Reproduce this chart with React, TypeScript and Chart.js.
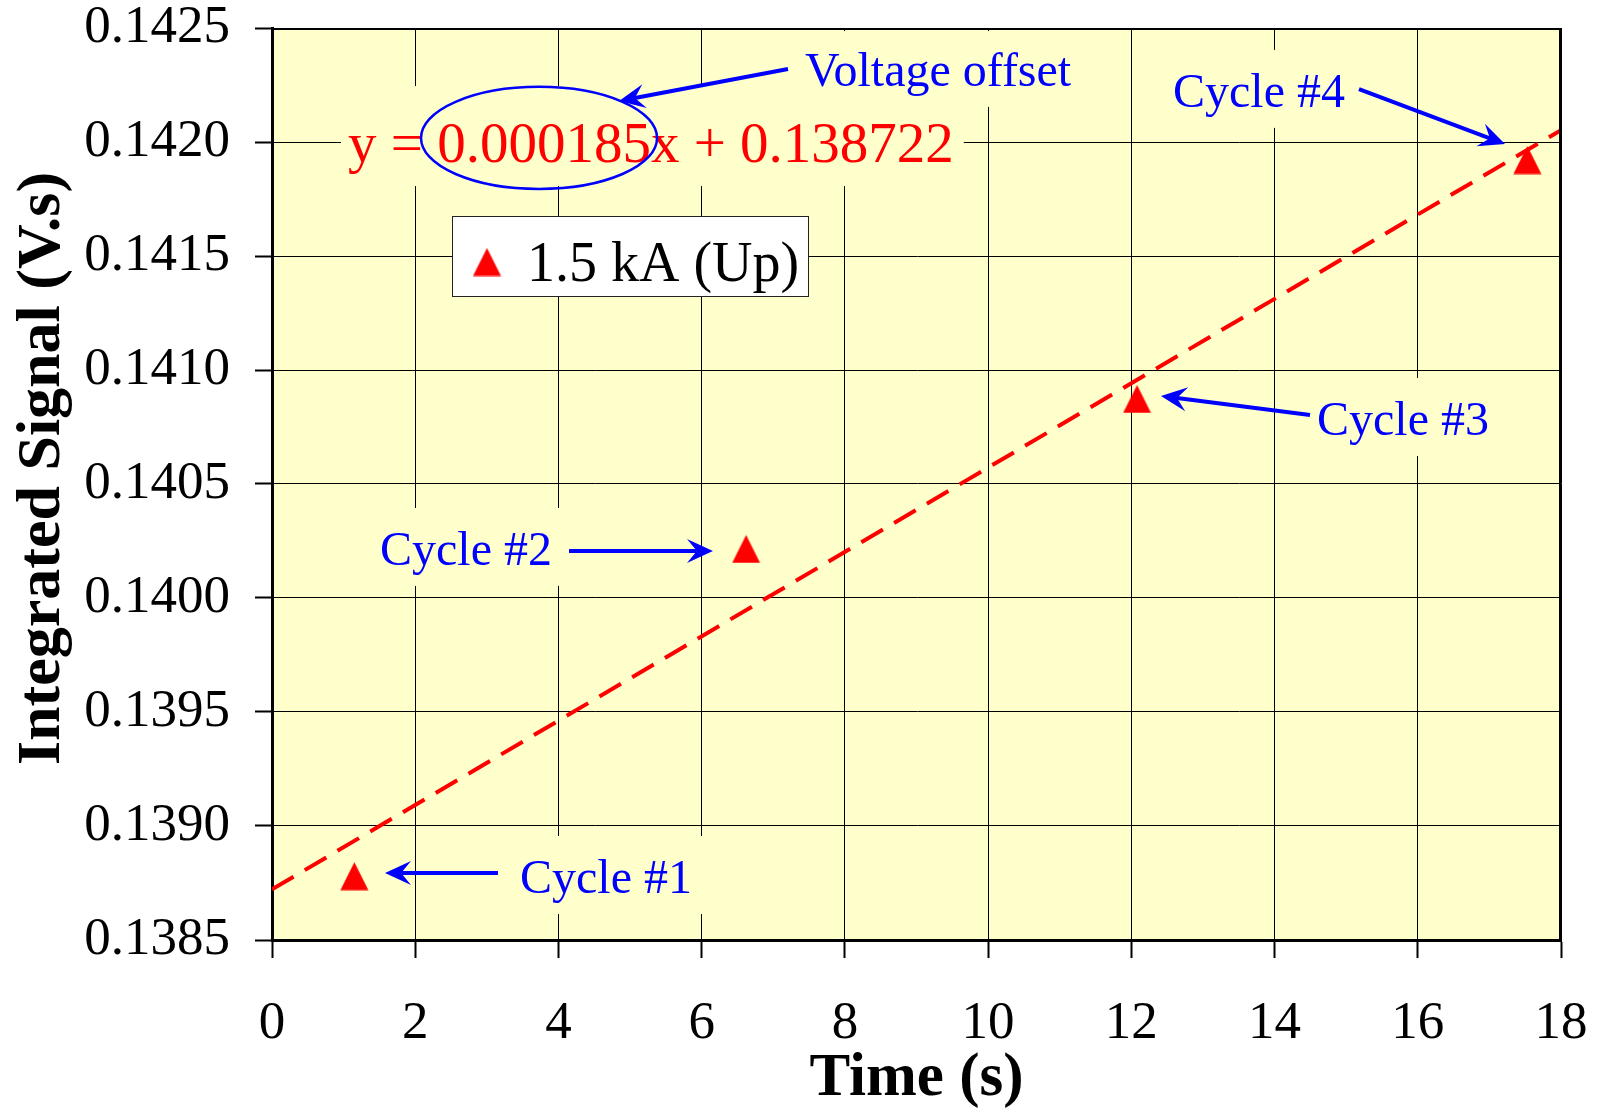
import React, { useEffect, useRef } from 'react';
import { Chart, registerables } from 'chart.js';

Chart.register(...registerables);

const FONT = "'Liberation Serif', 'Times New Roman', Times, serif";

// ---- data ----
const seriesLabel = '1.5 kA (Up)';
const timeS = [1.15, 6.62, 12.08, 17.53];
const signalVs = [0.13878, 0.140215, 0.140873, 0.141921];

const trendX = [0, 18];
const trendY = [0.138722, 0.142052];
const equationText = 'y = 0.000185x + 0.138722';

// axes
const X_MIN = 0;
const X_MAX = 18;
const X_STEP = 2;
const Y_MIN = 0.1385;
const Y_MAX = 0.1425;
const Y_STEP = 0.0005;
const xTitle = 'Time (s)';
const yTitle = 'Integrated Signal (V.s)';

// annotations (data coordinates)
const cycleLabels = ['Cycle #1', 'Cycle #2', 'Cycle #3', 'Cycle #4'];
const cycleTextX = [3.463, 1.508, 14.593, 12.582];
const cycleTextY = [0.138706, 0.140145, 0.140715, 0.142154];
const arrowFromX = [3.156, 4.148, 14.495, 15.179];
const arrowFromY = [0.138794, 0.140206, 0.140803, 0.142232];
const arrowToX = [1.578, 6.158, 12.414, 17.218];
const arrowToY = [0.138794, 0.140206, 0.140886, 0.141991];

const offsetLabel = 'Voltage offset';
const offsetTextPos = [7.443, 0.142246];
const offsetArrowFrom = [7.206, 0.14232];
const offsetArrowTo = [4.846, 0.14218];
const equationPos = [1.061, 0.141912];
const ellipseCenter = [3.729, 0.142018];
const ellipseRadius = [1.648, 0.000224];

const PLOT_BG = '#FFFFCC';
const RED = '#FF0000';
const BLUE = '#0000FF';
const ANNOT_SIZE = 48;
const EQ_SIZE = 57;

function makeTriangle(size: number, color: string) {
  const c = document.createElement('canvas');
  c.width = size;
  c.height = size;
  const g = c.getContext('2d')!;
  g.fillStyle = color;
  g.beginPath();
  g.moveTo(size / 2, 0.5);
  g.lineTo(size - 0.5, size - 0.5);
  g.lineTo(0.5, size - 0.5);
  g.closePath();
  g.fill();
  return c;
}

function drawArrow(ctx: CanvasRenderingContext2D, x1: number, y1: number, x2: number, y2: number) {
  const headLen = 26;
  const headHalf = 12;
  const ang = Math.atan2(y2 - y1, x2 - x1);
  const ux = Math.cos(ang);
  const uy = Math.sin(ang);
  const px = -uy;
  const py = ux;
  const bx = x2 - ux * headLen;
  const by = y2 - uy * headLen;
  const nx = x2 - ux * headLen * 0.62;
  const ny = y2 - uy * headLen * 0.62;
  ctx.save();
  ctx.strokeStyle = BLUE;
  ctx.fillStyle = BLUE;
  ctx.lineWidth = 4;
  ctx.lineCap = 'butt';
  ctx.beginPath();
  ctx.moveTo(x1, y1);
  ctx.lineTo(nx, ny);
  ctx.stroke();
  ctx.beginPath();
  ctx.moveTo(x2, y2);
  ctx.lineTo(bx + px * headHalf, by + py * headHalf);
  ctx.lineTo(nx, ny);
  ctx.lineTo(bx - px * headHalf, by - py * headHalf);
  ctx.closePath();
  ctx.fill();
  ctx.restore();
}

const annotPlugin = {
  id: 'annot',
  beforeDraw(chart: any) {
    const { ctx, chartArea: a } = chart;
    ctx.save();
    ctx.fillStyle = '#FFFFFF';
    ctx.fillRect(0, 0, chart.width, chart.height);
    ctx.fillStyle = PLOT_BG;
    ctx.fillRect(a.left, a.top, a.right - a.left, a.bottom - a.top);
    ctx.restore();
  },
  beforeDatasetsDraw(chart: any) {
    const { ctx, chartArea: a } = chart;
    const xs = chart.scales.x;
    const ys = chart.scales.y;
    ctx.save();
    ctx.fillStyle = PLOT_BG;
    ctx.font = `${ANNOT_SIZE}px ${FONT}`;
    cycleLabels.forEach((t, i) => {
      const x = xs.getPixelForValue(cycleTextX[i]);
      const y = ys.getPixelForValue(cycleTextY[i]);
      const w = ctx.measureText(t).width;
      ctx.fillRect(x - 10, y - 57, w + 26, 78);
    });
    ctx.font = `${EQ_SIZE}px ${FONT}`;
    {
      const x = xs.getPixelForValue(equationPos[0]);
      const y = ys.getPixelForValue(equationPos[1]);
      const w = ctx.measureText(equationText).width;
      ctx.fillRect(x - 7, y - 76, w + 17, 100);
    }
    ctx.font = `${ANNOT_SIZE}px ${FONT}`;
    {
      const x = xs.getPixelForValue(offsetTextPos[0]);
      const y = ys.getPixelForValue(offsetTextPos[1]);
      const w = ctx.measureText(offsetLabel).width;
      ctx.fillRect(x - 10, a.top + 3, w + 22, y + 21 - a.top - 3);
    }
    ctx.restore();
  },
  afterDatasetsDraw(chart: any) {
    const { ctx, chartArea: a } = chart;
    const xs = chart.scales.x;
    const ys = chart.scales.y;
    ctx.save();
    ctx.textBaseline = 'alphabetic';
    ctx.textAlign = 'left';

    ctx.font = `${ANNOT_SIZE}px ${FONT}`;
    cycleLabels.forEach((t, i) => {
      ctx.fillStyle = BLUE;
      ctx.fillText(t, xs.getPixelForValue(cycleTextX[i]), ys.getPixelForValue(cycleTextY[i]));
      drawArrow(
        ctx,
        xs.getPixelForValue(arrowFromX[i]),
        ys.getPixelForValue(arrowFromY[i]),
        xs.getPixelForValue(arrowToX[i]),
        ys.getPixelForValue(arrowToY[i])
      );
    });

    ctx.font = `${ANNOT_SIZE}px ${FONT}`;
    ctx.fillStyle = BLUE;
    ctx.fillText(offsetLabel, xs.getPixelForValue(offsetTextPos[0]), ys.getPixelForValue(offsetTextPos[1]));
    drawArrow(
      ctx,
      xs.getPixelForValue(offsetArrowFrom[0]),
      ys.getPixelForValue(offsetArrowFrom[1]),
      xs.getPixelForValue(offsetArrowTo[0]),
      ys.getPixelForValue(offsetArrowTo[1])
    );

    ctx.font = `${EQ_SIZE}px ${FONT}`;
    ctx.fillStyle = RED;
    ctx.fillText(equationText, xs.getPixelForValue(equationPos[0]), ys.getPixelForValue(equationPos[1]));

    {
      const cx = xs.getPixelForValue(ellipseCenter[0]);
      const cy = ys.getPixelForValue(ellipseCenter[1]);
      const rx = xs.getPixelForValue(ellipseCenter[0] + ellipseRadius[0]) - cx;
      const ry = cy - ys.getPixelForValue(ellipseCenter[1] + ellipseRadius[1]);
      ctx.strokeStyle = BLUE;
      ctx.lineWidth = 2.5;
      ctx.beginPath();
      ctx.ellipse(cx, cy, rx, ry, 0, 0, Math.PI * 2);
      ctx.stroke();
    }

    {
      const lx = a.left + 180;
      const ly = a.top + 188;
      const lw = 356;
      const lh = 80;
      ctx.fillStyle = '#FFFFFF';
      ctx.fillRect(lx, ly, lw, lh);
      ctx.strokeStyle = '#222222';
      ctx.lineWidth = 1;
      ctx.strokeRect(lx + 0.5, ly + 0.5, lw, lh);
      const ds = chart.data.datasets[0];
      const img = ds.pointStyle as HTMLCanvasElement;
      ctx.drawImage(img, lx + 35 - img.width / 2, ly + 46 - img.height / 2);
      ctx.fillStyle = '#000000';
      ctx.font = `56px ${FONT}`;
      ctx.fillText(ds.label, lx + 75, ly + 65);
    }

    ctx.strokeStyle = '#000000';
    ctx.lineWidth = 2;
    ctx.beginPath();
    ctx.moveTo(a.left, a.top + 1);
    ctx.lineTo(a.right - 1, a.top + 1);
    ctx.lineTo(a.right - 1, a.bottom);
    ctx.stroke();
    ctx.restore();
  },
};

function zeroPadding(s: any) {
  s.paddingTop = 0;
  s.paddingBottom = 0;
  s.paddingLeft = 0;
  s.paddingRight = 0;
}

export default function App() {
  const ref = useRef<HTMLCanvasElement>(null);

  useEffect(() => {
    document.body.style.margin = '0';
    const tri = makeTriangle(29, RED);
    const chart = new Chart(ref.current!, {
      type: 'scatter',
      data: {
        datasets: [
          {
            label: seriesLabel,
            data: timeS.map((x, i) => ({ x, y: signalVs[i] })),
            pointStyle: tri as any,
            pointRadius: 14,
            backgroundColor: RED,
            borderColor: RED,
            showLine: false,
            order: 1,
          },
          {
            label: 'Linear trend',
            data: trendX.map((x, i) => ({ x, y: trendY[i] })),
            showLine: true,
            borderColor: RED,
            borderWidth: 4,
            borderDash: [25, 13],
            pointRadius: 0,
            fill: false,
            order: 2,
          },
        ],
      },
      options: {
        animation: false,
        responsive: false,
        devicePixelRatio: 1,
        events: [],
        layout: { padding: { left: 0, top: 28, right: 39, bottom: 0 }, autoPadding: false },
        plugins: { legend: { display: false }, tooltip: { enabled: false } },
        scales: {
          x: {
            type: 'linear',
            min: X_MIN,
            max: X_MAX,
            ticks: {
              stepSize: X_STEP,
              color: '#000',
              font: { family: FONT, size: 53 },
              padding: 34,
              maxRotation: 0,
              autoSkip: false,
              callback: (v: any) => String(v),
            },
            grid: { color: '#000', lineWidth: 1, tickLength: 18, tickWidth: 2, tickColor: '#000' },
            border: { display: true, color: '#000', width: 3 },
            title: {
              display: true,
              text: xTitle,
              color: '#000',
              font: { family: FONT, size: 61, weight: 'bold', lineHeight: 1 },
              padding: { top: 0, bottom: 3 },
            },
            afterFit: (s: any) => {
              s.height = 173;
              zeroPadding(s);
            },
          },
          y: {
            type: 'linear',
            min: Y_MIN,
            max: Y_MAX,
            ticks: {
              stepSize: Y_STEP,
              color: '#000',
              font: { family: FONT, size: 53 },
              padding: 25,
              callback: (v: any) => Number(v).toFixed(4),
            },
            grid: { color: '#000', lineWidth: 1, tickLength: 17, tickWidth: 2, tickColor: '#000' },
            border: { display: true, color: '#000', width: 3 },
            title: {
              display: true,
              text: '\u00a0\u00a0' + yTitle,
              color: '#000',
              font: { family: FONT, size: 62, weight: 'bold', lineHeight: 1 },
              padding: { top: 12, bottom: 0 },
            },
            afterFit: (s: any) => {
              s.width = 272;
              zeroPadding(s);
            },
          },
        },
      },
      plugins: [annotPlugin as any],
    });
    return () => chart.destroy();
  }, []);

  return (
    <div style={{ width: 1600, height: 1113 }}>
      <canvas ref={ref} width={1600} height={1113} style={{ display: 'block' }} />
    </div>
  );
}
